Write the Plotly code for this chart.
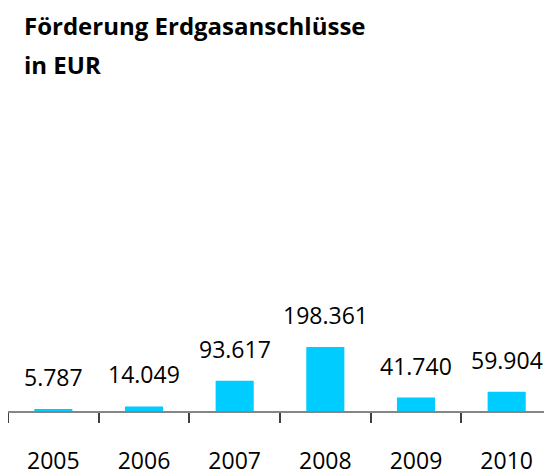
import plotly.graph_objects as go

# Förderung Erdgasanschlüsse (EUR) per year
years = ["2005", "2006", "2007", "2008", "2009", "2010"]
funding = [5787, 14049, 93617, 198361, 41740, 59904]

title_lines = ["Förderung Erdgasanschlüsse", "in EUR"]

BAR_COLOR = "#00CCFF"
FONT = "Open Sans"

# the page body adds an 8px margin, so the figure is 8px smaller than the window
WIDTH, HEIGHT = 544, 468
MARGIN = {"l": 0, "r": 0, "t": 116, "b": 57}
PLOT_H = HEIGHT - MARGIN["t"] - MARGIN["b"]


def de_format(value: int) -> str:
    """German thousands separator: 198361 -> 198.361"""
    return f"{value:,}".replace(",", ".")


fig = go.Figure(
    go.Bar(
        x=years,
        y=funding,
        marker={"color": BAR_COLOR, "line": {"width": 0}},
        width=0.42,
        hoverinfo="skip",
    )
)

# value labels above the bars (x given as category index)
for i, value in enumerate(funding):
    fig.add_annotation(
        x=i,
        y=value,
        text=de_format(value),
        showarrow=False,
        yanchor="bottom",
        yshift=14,
        font={"family": FONT, "size": 23, "color": "#000000"},
    )

# two-line bold title, placed in pixels from the top of the figure
for k, line in enumerate(title_lines):
    fig.add_annotation(
        xref="paper",
        yref="paper",
        x=14 / WIDTH,
        y=1 + (MARGIN["t"] + 4 - k * 40) / PLOT_H,
        xanchor="left",
        yanchor="top",
        text=f"<b>{line}</b>",
        showarrow=False,
        font={"family": FONT, "size": 24, "color": "#000000"},
    )

fig.update_layout(
    width=WIDTH,
    height=HEIGHT,
    paper_bgcolor="white",
    plot_bgcolor="white",
    showlegend=False,
    xaxis={
        "type": "category",
        "range": [-0.5, 5.5],
        "showline": True,
        "linecolor": "#868686",
        "linewidth": 2,
        "ticks": "outside",
        "tickson": "boundaries",
        "ticklen": 10,
        "tickwidth": 1.5,
        "tickcolor": "#404040",
        "ticklabelstandoff": 28,
        "tickangle": 0,
        "tickfont": {"family": FONT, "size": 23, "color": "#000000"},
        "showgrid": False,
        "zeroline": False,
        "fixedrange": True,
    },
    yaxis={
        "visible": False,
        "range": [0, 890000],
        "showgrid": False,
        "zeroline": False,
        "fixedrange": True,
    },
    margin=MARGIN,
)

fig.write_html("out.html")
